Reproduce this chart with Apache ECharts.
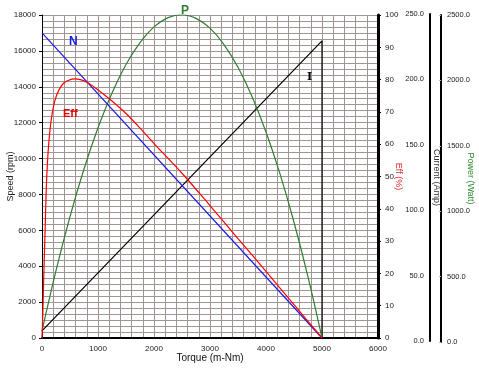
<!DOCTYPE html>
<html><head><meta charset="utf-8">
<script src="https://cdn.jsdelivr.net/npm/echarts@6/dist/echarts.min.js"></script>
<style>html,body{margin:0;padding:0;background:#fff}#c{width:479px;height:369px}</style>
</head><body><div id="c"></div>
<script>
// Torque (m-Nm) tick labels / ranges
const torqueTicks = [0, 1000, 2000, 3000, 4000, 5000, 6000];
// Speed N (rpm) vs torque
const speedTorque = [0, 5000];
const speedValues = [17000, 0];
// Current I (Amp) vs torque (drops to 0 at stall)
const currentTorque = [0, 5000, 5000];
const currentValues = [5.5, 230, 0];
// Efficiency (%) vs torque
const effTorque = [0, 15, 30, 50, 85, 140, 230, 380, 590, 800, 1000, 1250, 1500, 1750, 2000, 2500, 3000, 3500, 4000, 4500, 5000];
const effValues = [0, 8, 18, 30, 50, 64, 73.5, 78.8, 80.2, 79.2, 76.8, 73.4, 69.5, 65, 60.2, 51, 41, 30.8, 20.6, 10.3, 0];
// Power P (Watt) vs torque
const powerTorque = [0, 250, 500, 750, 1000, 1250, 1500, 1750, 2000, 2250, 2500, 2750, 3000, 3250, 3500, 3750, 4000, 4250, 4500, 4750, 5000];
const powerValues = [54, 522, 940, 1308, 1627, 1897, 2117, 2287, 2408, 2480, 2502, 2474, 2398, 2271, 2095, 1870, 1595, 1270, 896, 473, 0];

const pair = (xs, ys) => xs.map((x, i) => [x, ys[i]]);
const FONT = 'Liberation Sans';
const gridColor = '#a39494';
const plain = v => String(v);
const fixed1 = v => v.toFixed(1);

const chart = echarts.init(document.getElementById('c'), null, {renderer: 'canvas'});
chart.setOption({
  backgroundColor: '#fff',
  animation: false,
  grid: [
    {left: 42, right: 101, top: 15, bottom: 31, containLabel: false, outerBoundsMode: 'none'},
    {left: 42, right: 49, top: 14, bottom: 28, containLabel: false, outerBoundsMode: 'none'},
    {left: 42, right: 38, top: 15, bottom: 27, containLabel: false, outerBoundsMode: 'none'}
  ],
  xAxis: [
    {
      type: 'value', gridIndex: 0, min: torqueTicks[0], max: torqueTicks[torqueTicks.length - 1], interval: 1000,
      name: 'Torque (m-Nm)', nameLocation: 'middle', nameGap: 15, nameMoveOverlap: false,
      nameTextStyle: {fontFamily: FONT, fontSize: 10, color: '#111'},
      axisLine: {onZero: false, lineStyle: {color: '#000', width: 2}},
      axisTick: {show: false},
      axisLabel: {fontFamily: FONT, fontSize: 8, color: '#222', margin: 7, formatter: plain},
      splitLine: {show: true, lineStyle: {color: gridColor, width: 1}},
      minorTick: {show: false, splitNumber: 5},
      minorSplitLine: {show: true, lineStyle: {color: gridColor, width: 1}}
    },
    {type: 'value', gridIndex: 1, min: 0, max: 6000, show: false},
    {type: 'value', gridIndex: 2, min: 0, max: 6000, show: false}
  ],
  yAxis: [
    {
      type: 'value', gridIndex: 0, position: 'left', min: 0, max: 18000, interval: 2000,
      name: 'Speed (rpm)', nameLocation: 'middle', nameGap: 27, nameRotate: 90, nameMoveOverlap: false,
      nameTextStyle: {fontFamily: FONT, fontSize: 9, color: '#222'},
      axisLine: {show: true, onZero: false, lineStyle: {color: '#000', width: 1}},
      axisTick: {show: true, length: 3, lineStyle: {color: '#000'}},
      axisLabel: {fontFamily: FONT, fontSize: 8, color: '#222', margin: 6, formatter: plain},
      splitLine: {show: true, lineStyle: {color: gridColor, width: 1}},
      minorTick: {show: false, splitNumber: 6},
      minorSplitLine: {show: true, lineStyle: {color: gridColor, width: 1}}
    },
    {
      type: 'value', gridIndex: 0, position: 'right', min: 0, max: 100, interval: 10,
      name: 'Eff (%)', nameLocation: 'middle', nameGap: 16, nameRotate: -90, nameMoveOverlap: false,
      nameTextStyle: {fontFamily: FONT, fontSize: 9, color: '#e02020'},
      axisLine: {show: true, onZero: false, lineStyle: {color: '#000', width: 3}},
      axisTick: {show: true, length: 3, lineStyle: {color: '#000'}},
      axisLabel: {fontFamily: FONT, fontSize: 8, color: '#222', margin: 7, formatter: plain},
      splitLine: {show: false}
    },
    {type: 'value', gridIndex: 0, min: 0, max: 250, show: false, splitLine: {show: false}},
    {type: 'value', gridIndex: 0, min: 0, max: 2500, show: false, splitLine: {show: false}},
    {
      type: 'value', gridIndex: 1, position: 'right', min: 0, max: 250, interval: 50,
      name: 'Current (Amp)', nameLocation: 'middle', nameGap: 2, nameRotate: -90, nameMoveOverlap: false,
      nameTextStyle: {fontFamily: FONT, fontSize: 9, color: '#333'},
      axisLine: {show: true, onZero: false, lineStyle: {color: '#000', width: 2}},
      axisTick: {show: false},
      axisLabel: {inside: true, fontFamily: FONT, fontSize: 7.5, color: '#222', margin: 6, formatter: fixed1},
      splitLine: {show: false}
    },
    {
      type: 'value', gridIndex: 2, position: 'right', min: 0, max: 2500, interval: 500,
      name: 'Power (Watt)', nameLocation: 'middle', nameGap: 25, nameRotate: -90, nameMoveOverlap: false,
      nameTextStyle: {fontFamily: FONT, fontSize: 9, color: '#2e8b2e'},
      axisLine: {show: true, onZero: false, lineStyle: {color: '#000', width: 2}},
      axisTick: {show: true, inside: true, length: 2, lineStyle: {color: '#bbb'}},
      axisLabel: {fontFamily: FONT, fontSize: 7.5, color: '#222', margin: 6, formatter: fixed1},
      splitLine: {show: false}
    }
  ],
  series: [
    {type: 'line', name: 'I', xAxisIndex: 0, yAxisIndex: 2, data: pair(currentTorque, currentValues),
      symbol: 'none', lineStyle: {color: '#000', width: 1.2}, z: 3},
    {type: 'line', name: 'P', xAxisIndex: 0, yAxisIndex: 3, data: pair(powerTorque, powerValues),
      smooth: 0.4, symbol: 'none', lineStyle: {color: '#2e7d32', width: 1.2}, z: 3},
    {type: 'line', name: 'N', xAxisIndex: 0, yAxisIndex: 0, data: pair(speedTorque, speedValues),
      symbol: 'none', lineStyle: {color: '#1a1ae6', width: 1.2}, z: 4},
    {type: 'line', name: 'Eff', xAxisIndex: 0, yAxisIndex: 1, data: pair(effTorque, effValues),
      smooth: 0.3, symbol: 'none', lineStyle: {color: '#ff0000', width: 1.2}, z: 4}
  ],
  graphic: [
    {type: 'text', z: 100, left: 69, top: 36, style: {text: 'N', font: 'bold 12px ' + FONT, fill: '#1a1ae6'}},
    {type: 'text', z: 100, left: 181, top: 5, style: {text: 'P', font: 'bold 12px ' + FONT, fill: '#2e7d32'}},
    {type: 'text', z: 100, left: 63, top: 108, style: {text: 'Eff', font: 'bold 11px ' + FONT, fill: '#e00000'}},
    {type: 'text', z: 100, left: 307, top: 72, style: {text: 'I', font: 'bold 11px "DejaVu Serif"', fill: '#000'}}
  ]
});
</script>
</body></html>
